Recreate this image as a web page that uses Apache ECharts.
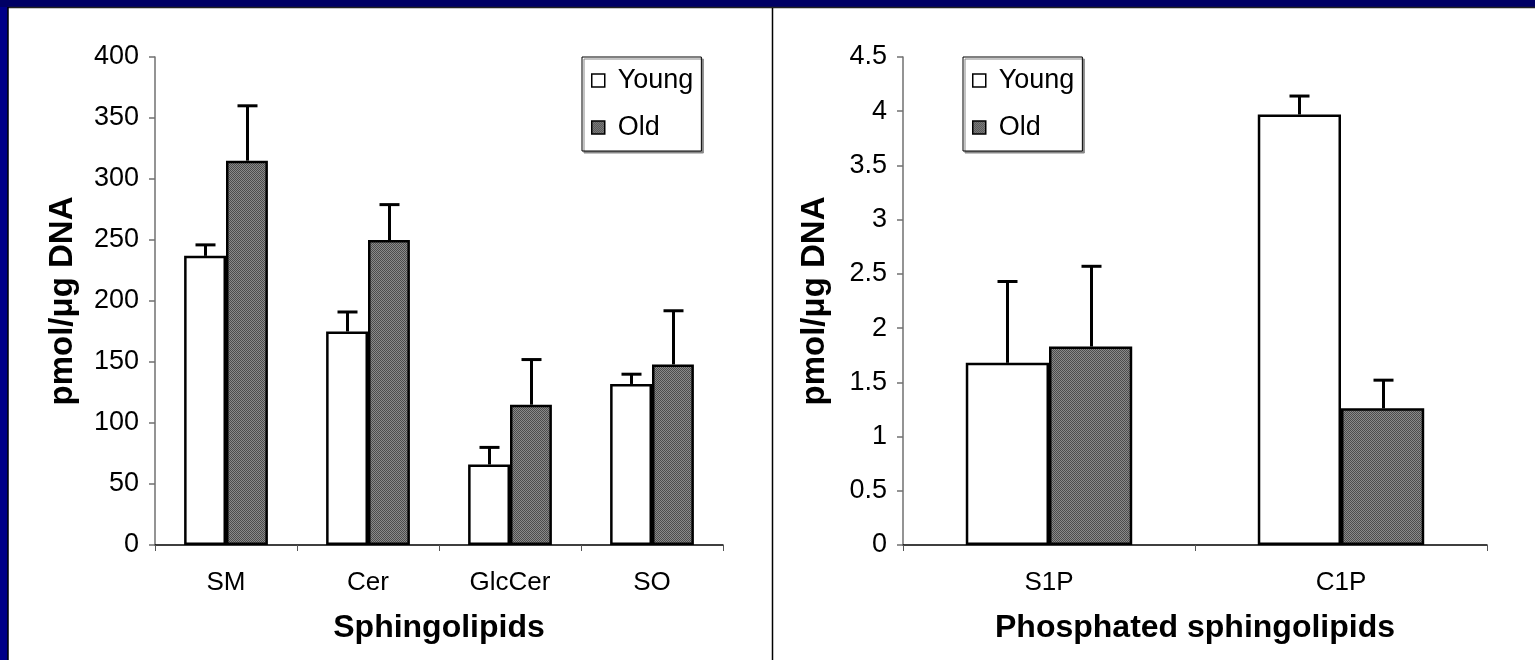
<!DOCTYPE html>
<html>
<head>
<meta charset="utf-8">
<title>Sphingolipids in young and old cells</title>
<script src="https://cdn.jsdelivr.net/npm/echarts@6/dist/echarts.min.js"></script>
<style>
  html, body { margin: 0; padding: 0; background: #fff; }
  #chart { width: 1535px; height: 660px; }
</style>
</head>
<body>
<div id="chart"></div>
<script>
// Sphingolipid levels (pmol/µg DNA), mean and upper error
const catsLeft = ['SM', 'Cer', 'GlcCer', 'SO'];
const youngLeft = [237, 175, 66, 132];
const youngLeftErr = [9, 16, 14, 8];
const oldLeft = [315, 250, 115, 148];
const oldLeftErr = [45, 29, 37, 44];

// Phosphated sphingolipids (pmol/µg DNA)
const catsRight = ['S1P', 'C1P'];
const youngRight = [1.68, 3.97];
const youngRightErr = [0.75, 0.17];
const oldRight = [1.83, 1.26];
const oldRightErr = [0.74, 0.26];

const FONT = 'Liberation Sans, Arial, sans-serif';

// fine dotted grey fill for the "Old" bars
function makePattern() {
  const c = document.createElement('canvas');
  c.width = 2; c.height = 2;
  const g = c.getContext('2d');
  g.fillStyle = '#8a8a8a';
  g.fillRect(0, 0, 2, 2);
  g.fillStyle = '#4c4c4c';
  g.fillRect(0, 0, 1, 1);
  g.fillRect(1, 1, 1, 1);
  return { image: c, repeat: 'repeat' };
}
const oldFill = makePattern();

const gapLeft = 0.41;
const gapRight = 0.43;

function barSeries(name, gi, data, fill, gap) {
  return {
    name: name, type: 'bar', xAxisIndex: gi, yAxisIndex: gi,
    data: data, barGap: 0, barCategoryGap: (gap * 100) + '%',
    itemStyle: { color: fill, borderColor: '#000', borderWidth: 2.5 },
    emphasis: { disabled: true }, z: 2
  };
}

function errorSeries(gi, base, err, side, gap) {
  return {
    type: 'custom', xAxisIndex: gi, yAxisIndex: gi, z: 5,
    silent: true,
    data: base.map((v, i) => [i, v, v + err[i]]),
    renderItem: function (params, api) {
      const band = api.size([1, 0])[0];
      const w = band * (1 - gap) / 2;
      const p0 = api.coord([api.value(0), api.value(1)]);
      const p1 = api.coord([api.value(0), api.value(2)]);
      const x = Math.round(p0[0] + side * w / 2) + 0.5;
      const st = { stroke: '#000', lineWidth: 3 };
      return {
        type: 'group', children: [
          { type: 'line', shape: { x1: x, y1: p0[1], x2: x, y2: p1[1] }, style: st },
          { type: 'line', shape: { x1: x - 10, y1: p1[1], x2: x + 10, y2: p1[1] }, style: st }
        ]
      };
    }
  };
}

function xAxis(gi, cats, name) {
  return {
    type: 'category', gridIndex: gi, data: cats,
    axisLine: { lineStyle: { color: '#000', width: 1.5 } },
    axisTick: { show: true, length: 6, lineStyle: { color: '#555' } },
    axisLabel: { color: '#000', fontFamily: FONT, fontSize: 26, margin: 25 },
    name: name, nameLocation: 'middle', nameGap: 83,
    nameTextStyle: {
      color: '#000', fontFamily: FONT, fontSize: 32, fontWeight: 'bold',
      verticalAlign: 'middle'
    }
  };
}

function yAxis(gi, max, interval, gap) {
  return {
    type: 'value', gridIndex: gi, min: 0, max: max, interval: interval,
    axisLine: { show: true, lineStyle: { color: '#707070', width: 1.5 } },
    axisTick: { show: true, length: 6, lineStyle: { color: '#707070', width: 1.5 } },
    splitLine: { show: false },
    axisLabel: { color: '#000', fontFamily: FONT, fontSize: 27, margin: 16 },
    name: 'pmol/μg DNA', nameLocation: 'middle', nameRotate: 90, nameGap: gap,
    nameTextStyle: { color: '#000', fontFamily: FONT, fontSize: 33, fontWeight: 'bold' }
  };
}

function legend(left) {
  return {
    data: ['Young', 'Old'], orient: 'vertical', left: left, top: 57,
    icon: 'rect',
    backgroundColor: '#fff', borderColor: '#000', borderWidth: 1,
    shadowColor: '#888', shadowOffsetX: 2, shadowOffsetY: 2, shadowBlur: 0,
    padding: [10, 8, 10, 9], itemGap: 20, itemWidth: 13, itemHeight: 13,
    selectedMode: false,
    itemStyle: { borderColor: '#000', borderWidth: 1.5 },
    textStyle: { color: '#000', fontFamily: FONT, fontSize: 27, padding: [0, 0, 0, 8] }
  };
}

const chart = echarts.init(document.getElementById('chart'), null, { renderer: 'canvas' });
chart.setOption({
  animation: false,
  backgroundColor: '#fff',
  graphic: [
    { type: 'rect', shape: { x: 0, y: 0, width: 8, height: 660 }, style: { fill: '#000088' }, z: -10 },
    { type: 'rect', shape: { x: 0, y: 0, width: 1535, height: 7 }, style: { fill: '#000064' }, z: -10 },
    { type: 'line', shape: { x1: 8, y1: 7.5, x2: 1535, y2: 7.5 }, style: { stroke: '#222', lineWidth: 1.5 }, z: -9 },
    { type: 'line', shape: { x1: 8, y1: 7, x2: 8, y2: 660 }, style: { stroke: '#000', lineWidth: 1.5 }, z: -9 },
    { type: 'line', shape: { x1: 772.5, y1: 8, x2: 772.5, y2: 660 }, style: { stroke: '#000', lineWidth: 1.5 }, z: -9 }
  ],
  legend: [legend(582), legend(963)],
  grid: [
    { left: 155, top: 57, width: 568, height: 488 },
    { left: 903, top: 57, width: 584, height: 488 }
  ],
  xAxis: [xAxis(0, catsLeft, 'Sphingolipids'), xAxis(1, catsRight, 'Phosphated sphingolipids')],
  yAxis: [yAxis(0, 400, 50, 76), yAxis(1, 4.5, 0.5, 72)],
  series: [
    barSeries('Young', 0, youngLeft, '#fff', gapLeft),
    barSeries('Old', 0, oldLeft, oldFill, gapLeft),
    barSeries('Young', 1, youngRight, '#fff', gapRight),
    barSeries('Old', 1, oldRight, oldFill, gapRight),
    errorSeries(0, youngLeft, youngLeftErr, -1, gapLeft),
    errorSeries(0, oldLeft, oldLeftErr, 1, gapLeft),
    errorSeries(1, youngRight, youngRightErr, -1, gapRight),
    errorSeries(1, oldRight, oldRightErr, 1, gapRight)
  ]
});
</script>
</body>
</html>
